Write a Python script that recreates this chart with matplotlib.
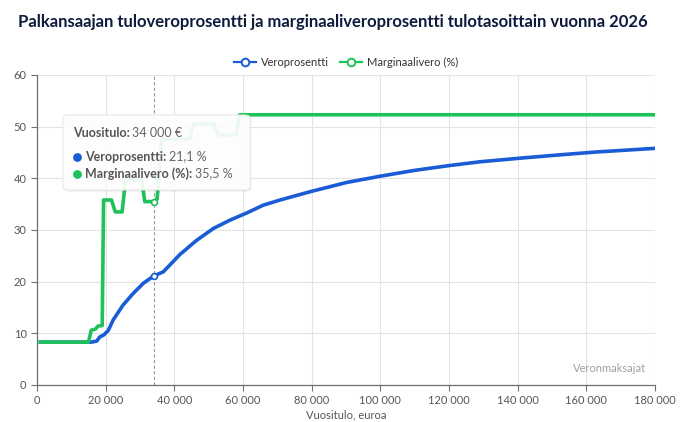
import numpy as np
import matplotlib.pyplot as plt
from matplotlib.patches import FancyBboxPatch
from matplotlib.ticker import FuncFormatter

plt.rcParams['font.family'] = ['Lato', 'DejaVu Sans']

# data #######################################################################
# Veroprosentti (average income tax rate, %)
vero_x = [1000, 15000, 15900, 17400, 18300, 19500, 20800, 22200, 25100, 28000,
          31000, 34000, 36800, 41700, 46500, 51400, 56200, 61100, 65900, 70800,
          79500, 90200, 99900, 109600, 119300, 129000, 140700, 153300, 163000,
          180000]
vero_y = [8.3, 8.3, 8.3, 8.5, 9.3, 9.7, 10.6, 12.6, 15.5, 17.7,
          19.7, 21.1, 21.9, 25.3, 28.0, 30.3, 31.9, 33.3, 34.8, 35.8,
          37.4, 39.2, 40.4, 41.5, 42.4, 43.2, 43.9, 44.6, 45.1,
          45.8]

# Marginaalivero (marginal tax rate, %)
marg_x = [1000, 15000, 15800, 17000, 17800, 19000, 19400, 21700, 22800, 24800,
          25800, 30500, 31400, 34000, 35000, 36300, 44500, 45600, 51600, 52700,
          58000, 59000, 180000]
marg_y = [8.3, 8.3, 10.6, 10.8, 11.4, 11.5, 35.8, 35.8, 33.5, 33.5,
          39.7, 39.7, 35.5, 35.5, 36.0, 47.6, 47.6, 50.5, 50.5, 48.4,
          48.4, 52.3, 52.3]

hover_x = 34000
hover_vero = 21.1
hover_marg = 35.5

blue = '#1a5cd6'
green = '#1fc25a'
grid_c = '#e3e3e3'
axis_c = '#6e7079'

fig = plt.figure(figsize=(6.9, 4.22), dpi=100)
ax = fig.add_axes([0.0536, 0.0877, 0.8956, 0.7346])

ax.plot(vero_x, vero_y, color=blue, linewidth=2.6, zorder=3,
        solid_joinstyle='round', label='Veroprosentti')
ax.plot(marg_x, marg_y, color=green, linewidth=2.6, zorder=3,
        solid_joinstyle='round', label='Marginaalivero (%)')

# hover guide line and highlighted points
ax.axvline(hover_x, color='#9a9a9a', linestyle=(0, (3, 2)), linewidth=0.8, zorder=2)
ax.scatter([hover_x], [hover_vero], s=18, facecolor='white', edgecolor=blue,
           linewidth=1.2, zorder=4)
ax.scatter([hover_x], [hover_marg], s=18, facecolor='white', edgecolor=green,
           linewidth=1.2, zorder=4)

ax.set_xlim(0, 180000)
ax.set_ylim(0, 60)
ax.set_yticks(np.arange(0, 61, 10))
ax.set_xticks(np.arange(0, 180001, 20000))
ax.xaxis.set_major_formatter(FuncFormatter(
    lambda v, p: '0' if v == 0 else '{:,.0f}'.format(v).replace(',', ' ')))
ax.grid(True, color=grid_c, linewidth=0.8, zorder=0)
ax.set_axisbelow(True)
for s in ['top', 'right']:
    ax.spines[s].set_visible(False)
for s in ['left', 'bottom']:
    ax.spines[s].set_color(axis_c)
    ax.spines[s].set_linewidth(0.9)
ax.tick_params(colors=axis_c, labelcolor='#555555', labelsize=8, length=4, width=0.8)
ax.set_xlabel('Vuositulo, euroa', fontsize=8, color='#555555', labelpad=2)

ax.text(0.985, 0.035, 'Veronmaksajat', transform=ax.transAxes, ha='right',
        va='bottom', fontsize=8, color='#a0a0a0')

leg = ax.legend(loc='lower center', bbox_to_anchor=(0.5, 1.0), ncol=2,
                frameon=False, fontsize=8, handlelength=2.0, columnspacing=1.0,
                handletextpad=0.4, borderaxespad=0.2)
for h, c in zip(leg.legend_handles, [blue, green]):
    h.set_marker('o')
    h.set_markersize(5.5)
    h.set_markerfacecolor('white')
    h.set_markeredgecolor(c)
    h.set_markeredgewidth(1.4)
    h.set_linewidth(1.6)
for t in leg.get_texts():
    t.set_color('#333333')

fig.text(0.026, 0.948, 'Palkansaajan tuloveroprosentti ja marginaaliveroprosentti tulotasoittain vuonna 2026',
         fontsize=12, fontweight='bold', color='#0e1b3d', ha='left', va='center')

# tooltip ###################################################################
shadow = FancyBboxPatch((0.044, 0.623), 0.303, 0.242, transform=ax.transAxes,
                        boxstyle='round,pad=0,rounding_size=0.01',
                        facecolor='#000000', edgecolor='none', alpha=0.06, zorder=5)
ax.add_patch(shadow)
box = FancyBboxPatch((0.042, 0.629), 0.303, 0.242, transform=ax.transAxes,
                     boxstyle='round,pad=0,rounding_size=0.01',
                     facecolor='white', edgecolor='#e6e6e6', linewidth=0.8,
                     alpha=0.92, zorder=6)
ax.add_patch(box)

fig.canvas.draw()
renderer = fig.canvas.get_renderer()

def label_value(x, y, label, value):
    t = ax.text(x, y, label, transform=ax.transAxes, fontsize=9,
                fontweight='bold', color='#555555', va='center', zorder=7)
    bb = t.get_window_extent(renderer).transformed(ax.transAxes.inverted())
    ax.text(bb.x1 + 0.004, y, value, transform=ax.transAxes, fontsize=9,
            color='#666666', va='center', zorder=7)

label_value(0.058, 0.812, 'Vuositulo:', '34 000 €')
ax.scatter([0.065], [0.737], s=28, color=blue, transform=ax.transAxes,
           zorder=7, clip_on=False)
label_value(0.078, 0.737, 'Veroprosentti:', '21,1 %')
ax.scatter([0.065], [0.682], s=28, color=green, transform=ax.transAxes,
           zorder=7, clip_on=False)
label_value(0.078, 0.682, 'Marginaalivero (%):', '35,5 %')

fig.savefig('out.png', dpi=100)
